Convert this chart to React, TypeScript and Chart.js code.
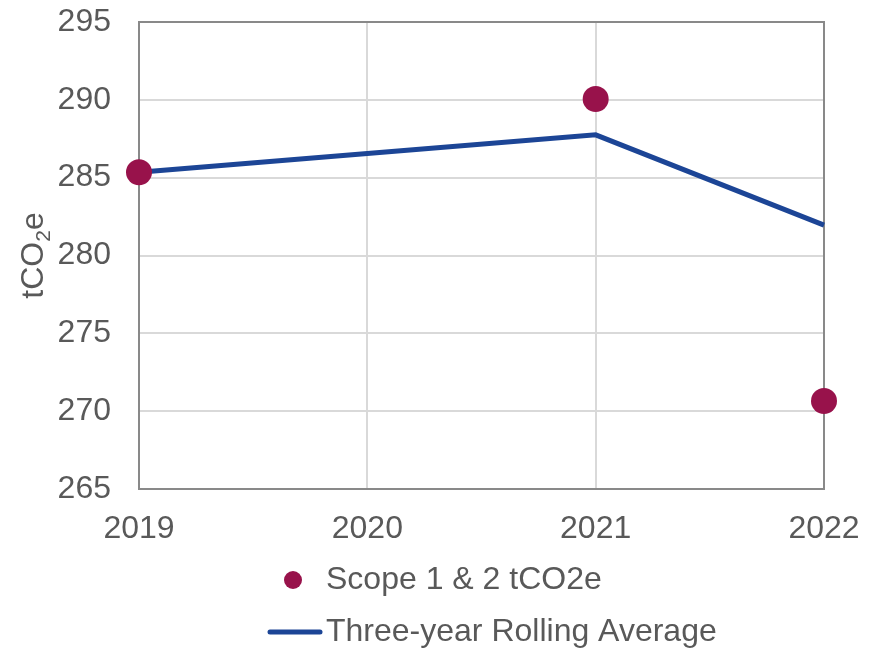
import { useEffect, useRef } from "react";
import { Chart, registerables } from "chart.js";

Chart.register(...registerables);

// ---- data ----
const scopeYears = [2019, 2021, 2022];
const scopeValues = [285.35, 290.05, 270.65];
const avgYears = [2019, 2020, 2021, 2022];
const avgValues = [285.35, 286.55, 287.75, 281.95];
const xTickValues = [2019, 2020, 2021, 2022];
const yTickValues = [265, 270, 275, 280, 285, 290, 295];
const seriesNames = ["Scope 1 & 2 tCO2e", "Three-year Rolling Average"];
const yTitleParts = ["tCO", "2", "e"];

const FONT = "'Liberation Sans', Arial, sans-serif";
const FS = 32;
const TEXT = "#595959";
const SCOPE_COLOR = "#98124b";
const AVG_COLOR = "#1c4596";

const framePlugin = {
  id: "frame",
  beforeDatasetsDraw(chart: any) {
    const { ctx, chartArea } = chart;
    ctx.save();
    ctx.strokeStyle = "#898989";
    ctx.lineWidth = 2;
    ctx.strokeRect(chartArea.left, chartArea.top, chartArea.right - chartArea.left, chartArea.bottom - chartArea.top);
    ctx.restore();
  },
};

const yTitlePlugin = {
  id: "yTitle",
  afterDraw(chart: any) {
    const { ctx, chartArea } = chart;
    const big = `${FS}px ${FONT}`;
    const small = `21px ${FONT}`;
    ctx.save();
    ctx.fillStyle = TEXT;
    ctx.textBaseline = "alphabetic";
    ctx.textAlign = "left";
    ctx.font = big;
    const w0 = ctx.measureText(yTitleParts[0]).width;
    const w2 = ctx.measureText(yTitleParts[2]).width;
    ctx.font = small;
    const w1 = ctx.measureText(yTitleParts[1]).width;
    const total = w0 + w1 + w2;
    const cy = (chartArea.top + chartArea.bottom) / 2;
    ctx.translate(43, cy);
    ctx.rotate(-Math.PI / 2);
    let x = -total / 2;
    ctx.font = big;
    ctx.fillText(yTitleParts[0], x, 0);
    x += w0;
    ctx.font = small;
    ctx.fillText(yTitleParts[1], x, 7);
    x += w1;
    ctx.font = big;
    ctx.fillText(yTitleParts[2], x, 0);
    ctx.restore();
  },
};

const legendPlugin = {
  id: "customLegend",
  afterDraw(chart: any) {
    const { ctx } = chart;
    const ds = chart.data.datasets;
    const symLeft = 268;
    const symRight = 322;
    const textX = 326;
    const rows = [580, 632];
    ctx.save();
    ctx.font = `${FS}px ${FONT}`;
    ctx.fillStyle = TEXT;
    ctx.textBaseline = "middle";
    ctx.textAlign = "left";
    ctx.beginPath();
    ctx.fillStyle = ds[0].backgroundColor;
    ctx.arc((symLeft + symRight) / 2 - 2, rows[0], 9, 0, Math.PI * 2);
    ctx.fill();
    ctx.fillStyle = TEXT;
    ctx.fillText(ds[0].label, textX, rows[0]);
    ctx.beginPath();
    ctx.strokeStyle = ds[1].borderColor;
    ctx.lineWidth = 5;
    ctx.lineCap = "round";
    ctx.moveTo(symLeft + 2, rows[1]);
    ctx.lineTo(symRight - 2, rows[1]);
    ctx.stroke();
    ctx.fillText(ds[1].label, textX, rows[1]);
    ctx.restore();
  },
};

export default function App() {
  const canvasRef = useRef<HTMLCanvasElement | null>(null);

  useEffect(() => {
    document.body.style.margin = "0";
    const canvas = canvasRef.current;
    if (!canvas) return;
    const chart = new Chart(canvas, {
      type: "scatter",
      data: {
        datasets: [
          {
            label: seriesNames[0],
            data: scopeYears.map((x, i) => ({ x, y: scopeValues[i] })),
            backgroundColor: SCOPE_COLOR,
            borderColor: SCOPE_COLOR,
            pointRadius: 13,
            pointHoverRadius: 13,
            borderWidth: 0,
            showLine: false,
            clip: false,
          } as any,
          {
            type: "line",
            label: seriesNames[1],
            data: avgYears.map((x, i) => ({ x, y: avgValues[i] })),
            borderColor: AVG_COLOR,
            backgroundColor: AVG_COLOR,
            borderWidth: 5,
            pointRadius: 0,
            showLine: true,
            tension: 0,
            clip: false,
          } as any,
        ],
      },
      options: {
        animation: false,
        responsive: true,
        maintainAspectRatio: false,
        layout: { padding: { left: 0, top: 22, right: 55, bottom: 0 } },
        plugins: {
          legend: { display: false },
          tooltip: { enabled: false },
        },
        scales: {
          x: {
            type: "linear",
            min: xTickValues[0],
            max: xTickValues[xTickValues.length - 1],
            afterBuildTicks: (scale: any) => {
              scale.ticks = xTickValues.map((v) => ({ value: v }));
            },
            afterFit: (scale: any) => {
              scale.height = 159;
              scale.paddingLeft = 0;
              scale.paddingRight = 0;
            },
            border: { display: false },
            grid: { color: "#d9d9d9", lineWidth: 2, drawTicks: false },
            ticks: {
              color: TEXT,
              font: { family: FONT, size: FS },
              padding: 21,
              maxRotation: 0,
              callback: (v: any) => String(v),
            },
          },
          y: {
            type: "linear",
            min: yTickValues[0],
            max: yTickValues[yTickValues.length - 1],
            afterBuildTicks: (scale: any) => {
              scale.ticks = yTickValues.map((v) => ({ value: v }));
            },
            afterFit: (scale: any) => {
              scale.width = 139;
              scale.paddingTop = 0;
              scale.paddingBottom = 0;
            },
            border: { display: false },
            grid: { color: "#d9d9d9", lineWidth: 2, drawTicks: false },
            ticks: {
              color: TEXT,
              font: { family: FONT, size: FS },
              padding: 28,
              callback: (v: any) => String(v),
            },
          },
        },
      },
      plugins: [framePlugin, yTitlePlugin, legendPlugin],
    } as any);
    return () => chart.destroy();
  }, []);

  return (
    <div style={{ position: "absolute", left: 0, top: 0, width: 879, height: 648, background: "#fff" }}>
      <canvas ref={canvasRef} />
    </div>
  );
}
